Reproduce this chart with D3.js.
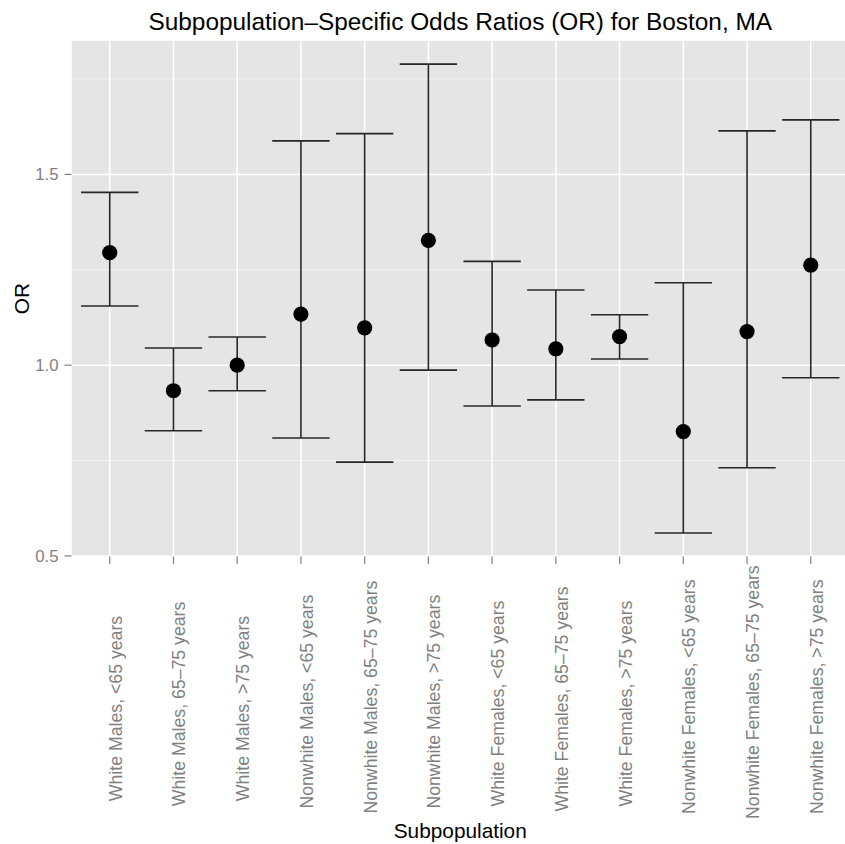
<!DOCTYPE html>
<html>
<head>
<meta charset="utf-8">
<script src="https://cdn.jsdelivr.net/npm/d3@7"></script>
<style>
  html, body { margin: 0; padding: 0; background: #fff; }
  svg { display: block; font-family: "Liberation Sans", Arial, Helvetica, sans-serif; }
</style>
</head>
<body>
<svg id="chart" width="845" height="844"></svg>
<script>
// Subpopulation-specific odds ratios with confidence intervals
const categories = [
  "White Males, <65 years",
  "White Males, 65\u201375 years",
  "White Males, >75 years",
  "Nonwhite Males, <65 years",
  "Nonwhite Males, 65\u201375 years",
  "Nonwhite Males, >75 years",
  "White Females, <65 years",
  "White Females, 65\u201375 years",
  "White Females, >75 years",
  "Nonwhite Females, <65 years",
  "Nonwhite Females, 65\u201375 years",
  "Nonwhite Females, >75 years"
];
const orValues = [1.295, 0.933, 1.000, 1.134, 1.098, 1.327, 1.066, 1.043, 1.075, 0.826, 1.088, 1.262];
const lowerCI  = [1.155, 0.828, 0.933, 0.809, 0.746, 0.987, 0.893, 0.909, 1.016, 0.560, 0.731, 0.967];
const upperCI  = [1.453, 1.045, 1.074, 1.588, 1.607, 1.789, 1.272, 1.197, 1.132, 1.216, 1.614, 1.643];
const yMajorTicks = [0.5, 1.0, 1.5];
const yMinorTicks = [0.75, 1.25, 1.75];

const titleText = "Subpopulation\u2013Specific Odds Ratios (OR) for Boston, MA";
const xTitle = "Subpopulation";
const yTitle = "OR";

const rows = categories.map((c, i) => ({ cat: c, or: orValues[i], lo: lowerCI[i], hi: upperCI[i] }));

const svg = d3.select("#chart");
const panel = { left: 71.5, right: 849, top: 40.7, bottom: 556.5 };

// continuous y range expanded by 5% on each side
const dMin = d3.min(lowerCI), dMax = d3.max(upperCI);
const pad = (dMax - dMin) * 0.05;
const y = d3.scaleLinear().domain([dMin - pad, dMax + pad]).range([panel.bottom, panel.top]);
const x = d3.scalePoint().domain(categories).range([panel.left, panel.right]).padding(0.6);
const capW = x.step() * 0.9;

svg.append("defs").append("clipPath").attr("id", "panelClip")
  .append("rect").attr("x", panel.left).attr("y", panel.top)
  .attr("width", panel.right - panel.left).attr("height", panel.bottom - panel.top);

const g = svg.append("g").attr("clip-path", "url(#panelClip)");

// panel background
g.append("rect")
  .attr("x", panel.left).attr("y", panel.top)
  .attr("width", panel.right - panel.left).attr("height", panel.bottom - panel.top)
  .attr("fill", "#e5e5e5");

// minor grid
g.selectAll("line.minor").data(yMinorTicks).enter().append("line")
  .attr("x1", panel.left).attr("x2", panel.right)
  .attr("y1", d => y(d)).attr("y2", d => y(d))
  .attr("stroke", "#f2f2f2").attr("stroke-width", 1);

// major grid
g.selectAll("line.majorY").data(yMajorTicks).enter().append("line")
  .attr("x1", panel.left).attr("x2", panel.right)
  .attr("y1", d => y(d)).attr("y2", d => y(d))
  .attr("stroke", "#ffffff").attr("stroke-width", 1.5);
g.selectAll("line.majorX").data(categories).enter().append("line")
  .attr("x1", d => x(d)).attr("x2", d => x(d))
  .attr("y1", panel.top).attr("y2", panel.bottom)
  .attr("stroke", "#ffffff").attr("stroke-width", 1.5);

// error bars
const eb = g.selectAll("g.eb").data(rows).enter().append("g")
  .attr("stroke", "#262626").attr("stroke-width", 1.6).attr("fill", "none");
eb.append("line")
  .attr("x1", d => x(d.cat)).attr("x2", d => x(d.cat))
  .attr("y1", d => y(d.lo)).attr("y2", d => y(d.hi));
eb.append("line")
  .attr("x1", d => x(d.cat) - capW / 2).attr("x2", d => x(d.cat) + capW / 2)
  .attr("y1", d => y(d.hi)).attr("y2", d => y(d.hi));
eb.append("line")
  .attr("x1", d => x(d.cat) - capW / 2).attr("x2", d => x(d.cat) + capW / 2)
  .attr("y1", d => y(d.lo)).attr("y2", d => y(d.lo));

// points
g.selectAll("circle.pt").data(rows).enter().append("circle")
  .attr("cx", d => x(d.cat)).attr("cy", d => y(d.or))
  .attr("r", 7.6).attr("fill", "#000");

// y axis ticks and labels
const yAx = svg.append("g");
yAx.selectAll("line").data(yMajorTicks).enter().append("line")
  .attr("x1", panel.left - 7).attr("x2", panel.left)
  .attr("y1", d => y(d)).attr("y2", d => y(d))
  .attr("stroke", "#7f7f7f").attr("stroke-width", 1.2);
yAx.selectAll("text").data(yMajorTicks).enter().append("text")
  .attr("x", panel.left - 13).attr("y", d => y(d))
  .attr("dy", "0.36em").attr("text-anchor", "end")
  .attr("font-size", 16.8).attr("fill", "#7f7f7f")
  .text(d => d3.format(".1f")(d));

// x axis ticks and rotated labels
const xAx = svg.append("g");
xAx.selectAll("line").data(categories).enter().append("line")
  .attr("x1", d => x(d)).attr("x2", d => x(d))
  .attr("y1", panel.bottom).attr("y2", panel.bottom + 7.5)
  .attr("stroke", "#7f7f7f").attr("stroke-width", 1.2);
const labelAnchorY = 753;
const labelHjust = 0.26;
xAx.selectAll("text").data(categories).enter().append("text")
  .attr("font-size", 17.7).attr("fill", "#7f7f7f")
  .attr("text-anchor", "start")
  .text(d => d)
  .each(function(d) {
    const L = this.getComputedTextLength();
    d3.select(this)
      .attr("transform", `translate(${x(d) + 12},${labelAnchorY}) rotate(-90)`)
      .attr("x", -labelHjust * L).attr("y", 0);
  });

// titles
svg.append("text")
  .attr("x", (panel.left + panel.right) / 2).attr("y", 30)
  .attr("text-anchor", "middle").attr("font-size", 24.4).attr("fill", "#000")
  .text(titleText);
svg.append("text")
  .attr("x", (panel.left + panel.right) / 2).attr("y", 838)
  .attr("text-anchor", "middle").attr("font-size", 20.8).attr("fill", "#000")
  .text(xTitle);
svg.append("text")
  .attr("transform", `translate(29,${(panel.top + panel.bottom) / 2}) rotate(-90)`)
  .attr("text-anchor", "middle").attr("font-size", 20.8).attr("fill", "#000")
  .text(yTitle);
</script>
</body>
</html>
